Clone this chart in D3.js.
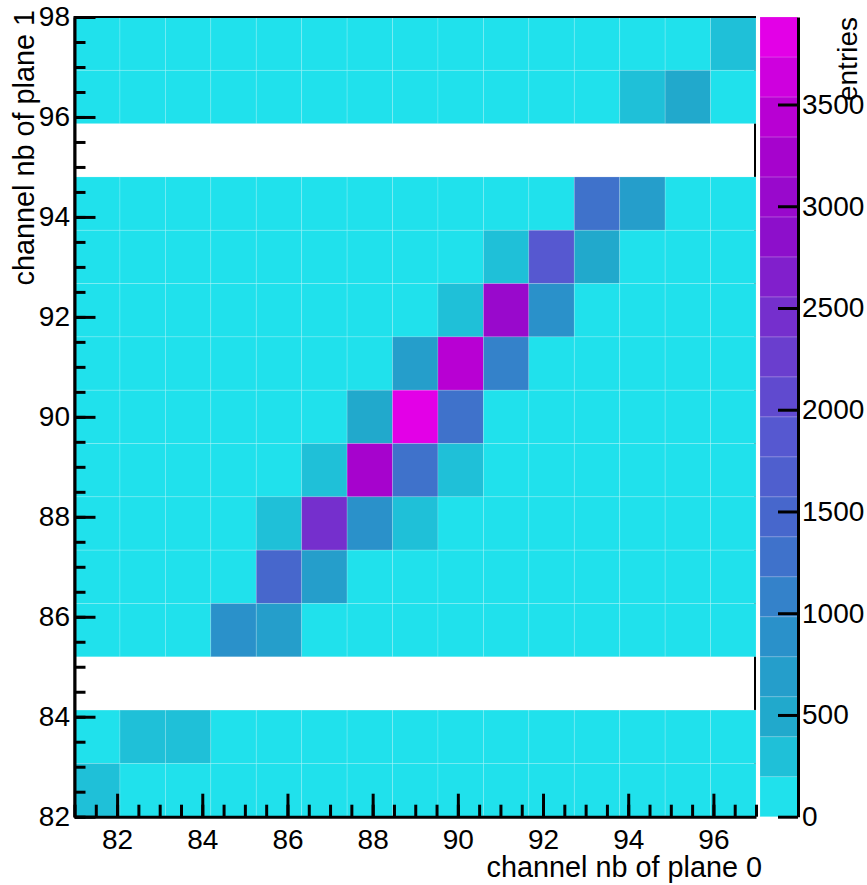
<!DOCTYPE html>
<html>
<head>
<meta charset="utf-8">
<script src="https://cdn.jsdelivr.net/npm/d3@7"></script>
<style>
  body { margin: 0; background: #fff; }
  svg { display: block; font-family: "Liberation Sans", Arial, Helvetica, sans-serif; }
</style>
</head>
<body>
<div id="chart"></div>
<script>
// histogram binning: 15 bins on each channel axis
const xRange = [81, 97];
const yRange = [82, 98];
const nBinsX = 15;
const nBinsY = 15;

// entries per bin, first row = top row of the plot (highest plane-1 bin)
const entries = [
  [  18,  22,  25,  21,  30,  27,  33,  29,  41,  38,  52,  64,  85, 120,  300],
  [  20,  19,  26,  24,  28,  35,  31,  40,  46,  57,  72,  95, 310, 470,  130],
  [   0,   0,   0,   0,   0,   0,   0,   0,   0,   0,   0,   0,   0,   0,    0],
  [  21,  25,  23,  30,  34,  37,  45,  52,  66,  98, 150, 1290, 650, 140,  88],
  [  24,  22,  28,  33,  36,  44,  50,  68, 102, 280, 1850, 580, 135,  76,  55],
  [  26,  27,  31,  35,  42,  49,  63, 110, 300, 3060, 900, 160,  82,  58,  44],
  [  29,  30,  34,  41,  47,  60, 115, 640, 3420, 1120, 170, 90,  61,  45,  37],
  [  31,  33,  39,  46,  58, 120, 520, 3930, 1300, 180,  95,  63,  48,  39,  32],
  [  33,  37,  43,  55, 125, 310, 3250, 1280, 330, 110,  67,  50,  41,  33,  28],
  [  36,  41,  52, 130, 320, 2480, 880, 300, 120,  72,  53,  43,  35,  29,  24],
  [  40,  48, 120, 160, 1500, 660, 175, 105,  70,  54,  44,  36,  30,  25,  22],
  [  45, 110, 150, 920, 610, 165,  98,  66,  52,  43,  36,  30,  26,  23,  20],
  [   0,   0,   0,   0,   0,   0,   0,   0,   0,   0,   0,   0,   0,   0,    0],
  [ 140, 270, 260, 150,  90,  62,  48,  40,  34,  29,  25,  22,  20,  18,  17],
  [ 300, 165, 105,  70,  52,  41,  35,  30,  26,  23,  20,  19,  17,  16,  15]
];

const xTicks = [82, 84, 86, 88, 90, 92, 94, 96];
const yTicks = [82, 84, 86, 88, 90, 92, 94, 96, 98];
const zTicks = [0, 500, 1000, 1500, 2000, 2500, 3000, 3500];
const nContours = 20;

const xTitle = "channel nb of plane 0";
const yTitle = "channel nb of plane 1";
const zTitle = "entries";

// "cool" gradient stops
const palStops = [0, 0.125, 0.25, 0.375, 0.5, 0.625, 0.75, 0.875, 1];
const palRed   = [33, 31, 42, 68, 86, 111, 141, 172, 227];
const palGreen = [255, 175, 145, 106, 88, 55, 15, 0, 0];
const palBlue  = [255, 205, 202, 203, 208, 205, 203, 206, 231];

// --- palette, 255 colours, and colour per contour level
const nCol = 255;
const palette = d3.range(nCol).map(k => {
  const t = k / (nCol - 1);
  const r = d3.scaleLinear().domain(palStops).range(palRed)(t);
  const g = d3.scaleLinear().domain(palStops).range(palGreen)(t);
  const b = d3.scaleLinear().domain(palStops).range(palBlue)(t);
  return d3.rgb(r, g, b).toString();
});
const levelColor = i => palette[Math.floor((i + 0.99) * nCol / nContours)];

const zMax = d3.max(entries.flat());
const zStep = zMax / nContours;
const colorOf = v => levelColor(Math.min(nContours - 1, Math.floor(v / zStep)));

// --- layout
const W = 867, H = 885;
const fontSize = 28;
const titleSize = 28.8;

const xScale = d3.scaleLinear().domain(xRange).range([74.5, 756]);
const yScale = d3.scaleLinear().domain(yRange).range([816.7, 17]);
const zScale = d3.scaleLinear().domain([0, zMax]).range([816.7, 17]);

const bwX = (xRange[1] - xRange[0]) / nBinsX;
const bwY = (yRange[1] - yRange[0]) / nBinsY;

const svg = d3.select("#chart").append("svg")
  .attr("width", W)
  .attr("height", H);

// frame (right side ends up under the cells)
svg.append("rect")
  .attr("x", xScale(xRange[0]))
  .attr("y", yScale(yRange[1]))
  .attr("width", 755 - xScale(xRange[0]))
  .attr("height", yScale(yRange[0]) - yScale(yRange[1]))
  .attr("fill", "none")
  .attr("stroke", "#000")
  .attr("stroke-width", 2);

// cells
const cells = [];
entries.forEach((row, r) => {
  const iy = nBinsY - 1 - r;
  row.forEach((v, ix) => {
    if (v > 0) cells.push({ ix, iy, v });
  });
});

svg.append("g").selectAll("rect")
  .data(cells)
  .join("rect")
  .attr("x", d => xScale(xRange[0] + d.ix * bwX))
  .attr("y", d => yScale(yRange[0] + (d.iy + 1) * bwY))
  .attr("width", d => xScale(xRange[0] + (d.ix + 1) * bwX) - xScale(xRange[0] + d.ix * bwX))
  .attr("height", d => yScale(yRange[0] + d.iy * bwY) - yScale(yRange[0] + (d.iy + 1) * bwY))
  .attr("fill", d => colorOf(d.v))
  .attr("stroke", "#fff")
  .attr("stroke-opacity", 0.2)
  .attr("stroke-width", 0.8);

// top edge of the frame on top of the cells
svg.append("line")
  .attr("x1", xScale(xRange[0])).attr("x2", xScale(xRange[1]))
  .attr("y1", yScale(yRange[1])).attr("y2", yScale(yRange[1]))
  .attr("stroke", "#000")
  .attr("stroke-width", 2);

function styleAxis(g) {
  g.select(".domain").attr("stroke-width", 3);
  g.selectAll(".tick line").attr("stroke-width", 3);
  g.selectAll("text")
    .attr("font-size", fontSize)
    .attr("font-family", "Liberation Sans, Arial, Helvetica, sans-serif")
    .attr("fill", "#000");
}

// x axis: minor then major ticks
const xMinor = d3.range(xRange[0], xRange[1] + 0.01, 0.5);
svg.append("g")
  .attr("transform", `translate(0,${yScale(yRange[0])})`)
  .call(d3.axisBottom(xScale).tickValues(xMinor).tickSize(-12).tickSizeOuter(0).tickFormat(""))
  .call(styleAxis);
svg.append("g")
  .attr("transform", `translate(0,${yScale(yRange[0])})`)
  .call(d3.axisBottom(xScale).tickValues(xTicks).tickSize(-23).tickSizeOuter(0).tickPadding(12))
  .call(styleAxis)
  .call(g => g.select(".domain").remove());

// y axis
const yMinor = d3.range(yRange[0], yRange[1] + 0.01, 0.5);
svg.append("g")
  .attr("transform", `translate(${xScale(xRange[0])},0)`)
  .call(d3.axisLeft(yScale).tickValues(yMinor).tickSize(-11).tickSizeOuter(0).tickFormat(""))
  .call(styleAxis);
svg.append("g")
  .attr("transform", `translate(${xScale(xRange[0])},0)`)
  .call(d3.axisLeft(yScale).tickValues(yTicks).tickSize(-21).tickSizeOuter(0).tickPadding(4.5))
  .call(styleAxis)
  .call(g => g.select(".domain").remove());

// colour bar
const barX0 = 760, barX1 = 797.5;
svg.append("g").selectAll("rect")
  .data(d3.range(nContours))
  .join("rect")
  .attr("x", barX0)
  .attr("y", i => zScale((i + 1) * zStep))
  .attr("width", barX1 - barX0)
  .attr("height", i => zScale(i * zStep) - zScale((i + 1) * zStep))
  .attr("fill", i => levelColor(i))
  .attr("stroke", "#fff")
  .attr("stroke-opacity", 0.2)
  .attr("stroke-width", 0.8);

svg.append("g")
  .attr("transform", `translate(798,0)`)
  .call(d3.axisRight(zScale).tickValues(zTicks).tickSize(-20).tickSizeOuter(0).tickPadding(4).tickFormat(d3.format("d")))
  .call(styleAxis);

// titles
svg.append("text")
  .attr("x", 762)
  .attr("y", 877)
  .attr("text-anchor", "end")
  .attr("font-size", titleSize)
  .text(xTitle);

svg.append("text")
  .attr("transform", "translate(34,10) rotate(-90)")
  .attr("text-anchor", "end")
  .attr("font-size", titleSize)
  .text(yTitle);

svg.append("text")
  .attr("transform", "translate(857,17) rotate(-90)")
  .attr("text-anchor", "end")
  .attr("font-size", fontSize)
  .text(zTitle);
</script>
</body>
</html>
